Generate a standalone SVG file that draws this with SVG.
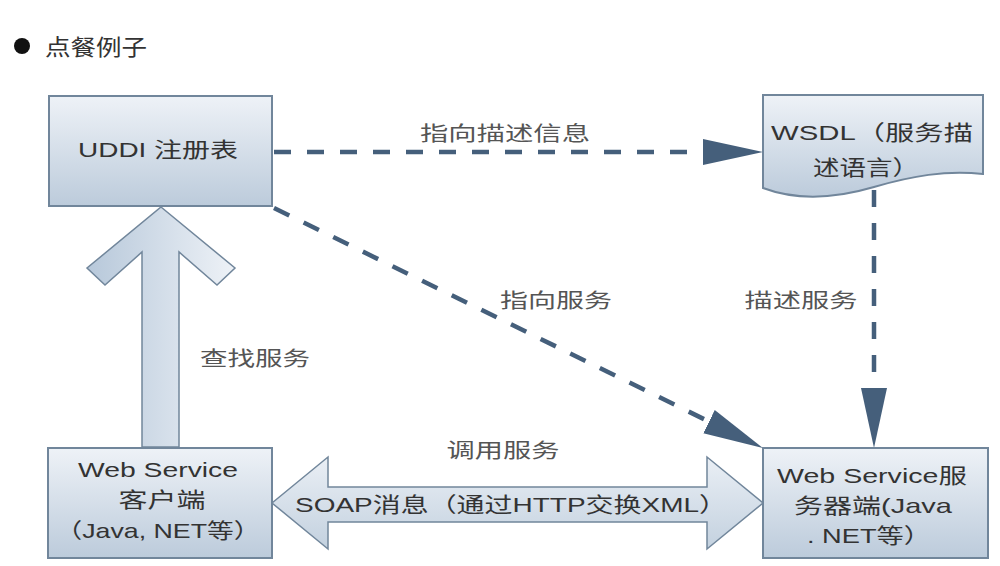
<svg xmlns="http://www.w3.org/2000/svg" width="1000" height="566" viewBox="0 0 1000 566">
  <defs>
    <linearGradient id="boxGrad" x1="0" y1="0" x2="0" y2="1">
      <stop offset="0" stop-color="#eef2f7"/>
      <stop offset="1" stop-color="#bccbdb"/>
    </linearGradient>
    <linearGradient id="upGrad" x1="0" y1="0" x2="1" y2="0">
      <stop offset="0" stop-color="#b7c8da"/>
      <stop offset="1" stop-color="#eef2f7"/>
    </linearGradient>
    <linearGradient id="soapGrad" x1="0" y1="0" x2="0" y2="1">
      <stop offset="0" stop-color="#eaeff5"/>
      <stop offset="1" stop-color="#c3d1df"/>
    </linearGradient>
    <marker id="head" markerUnits="userSpaceOnUse" markerWidth="60" markerHeight="28" refX="10" refY="14" orient="auto">
      <path d="M0,1 L60,14 L0,27 z" fill="#455f7b"/>
    </marker>
    <style>
      .box { fill: url(#boxGrad); stroke: #71869b; stroke-width: 2; }
      .dash { fill: none; stroke: #455f7b; stroke-width: 4.5; stroke-dasharray: 17 16; marker-end: url(#head); }
      .node { font-family: "Liberation Sans", "Noto Sans CJK SC", sans-serif; font-size: 21px; fill: #333; text-anchor: middle; }
      .lbl { font-family: "Noto Sans CJK SC", sans-serif; font-size: 20px; fill: #555; text-anchor: middle; }
      .big { fill: url(#upGrad); stroke: #71869b; stroke-width: 1.5; }
    </style>
  </defs>
  <rect width="1000" height="566" fill="#ffffff"/>

  <g id="title">
    <circle cx="22" cy="46" r="8" fill="#111"/>
    <text x="45" y="55" font-family="Noto Sans CJK SC, sans-serif" font-size="22" fill="#333" textLength="102" lengthAdjust="spacingAndGlyphs">点餐例子</text>
  </g>

  <g id="connectors">
    <polygon id="find-arrow" class="big" points="161,207 235,268 217,285 179,252 179,447 142,447 142,252 105,285 87,268"/>
    <polygon id="soap-arrow" points="272,503 328,457 328,487 707,487 707,457 763,503 707,549 707,522 328,522 328,549" fill="url(#soapGrad)" stroke="#71869b" stroke-width="1.5"/>
    <line class="dash" x1="274" y1="152" x2="713" y2="152"/>
    <line class="dash" x1="274" y1="208" x2="718" y2="426"/>
    <line class="dash" x1="874" y1="190" x2="874" y2="398"/>
    <text class="lbl" x="505" y="141" textLength="170" lengthAdjust="spacingAndGlyphs">指向描述信息</text>
    <text class="lbl" x="556" y="308" textLength="112" lengthAdjust="spacingAndGlyphs">指向服务</text>
    <text class="lbl" x="801" y="308" textLength="113" lengthAdjust="spacingAndGlyphs">描述服务</text>
    <text class="lbl" x="255" y="366" textLength="110" lengthAdjust="spacingAndGlyphs">查找服务</text>
    <text class="lbl" x="503" y="458" textLength="113" lengthAdjust="spacingAndGlyphs">调用服务</text>
    <text class="node" x="511" y="512" textLength="432" lengthAdjust="spacingAndGlyphs">SOAP消息（通过HTTP交换XML）</text>
  </g>

  <g id="uddi">
    <rect class="box" x="49" y="96" width="223" height="110"/>
    <text class="node" x="158" y="157" textLength="160" lengthAdjust="spacingAndGlyphs">UDDI 注册表</text>
  </g>

  <g id="wsdl">
    <path class="box" d="M763,95 H983 V174 C 945,170 912,176 874,187 C 830,200 795,200 763,188 Z"/>
    <text class="node" x="872" y="140" textLength="202" lengthAdjust="spacingAndGlyphs">WSDL（服务描</text>
    <text class="node" x="866" y="175" textLength="106" lengthAdjust="spacingAndGlyphs">述语言）</text>
  </g>

  <g id="client">
    <rect class="box" x="48" y="448" width="224" height="110"/>
    <text class="node" x="158" y="477" textLength="160" lengthAdjust="spacingAndGlyphs">Web Service</text>
    <text class="node" x="162" y="507" textLength="87" lengthAdjust="spacingAndGlyphs">客户端</text>
    <text class="node" x="158" y="538" textLength="205" lengthAdjust="spacingAndGlyphs">（Java, NET等）</text>
  </g>

  <g id="server">
    <rect class="box" x="763" y="448" width="225" height="110"/>
    <text class="node" x="872" y="483" textLength="190" lengthAdjust="spacingAndGlyphs">Web Service服</text>
    <text class="node" x="873" y="513" textLength="158" lengthAdjust="spacingAndGlyphs">务器端(Java</text>
    <text class="node" x="869" y="543" textLength="124" lengthAdjust="spacingAndGlyphs">. NET等）</text>
  </g>
</svg>
